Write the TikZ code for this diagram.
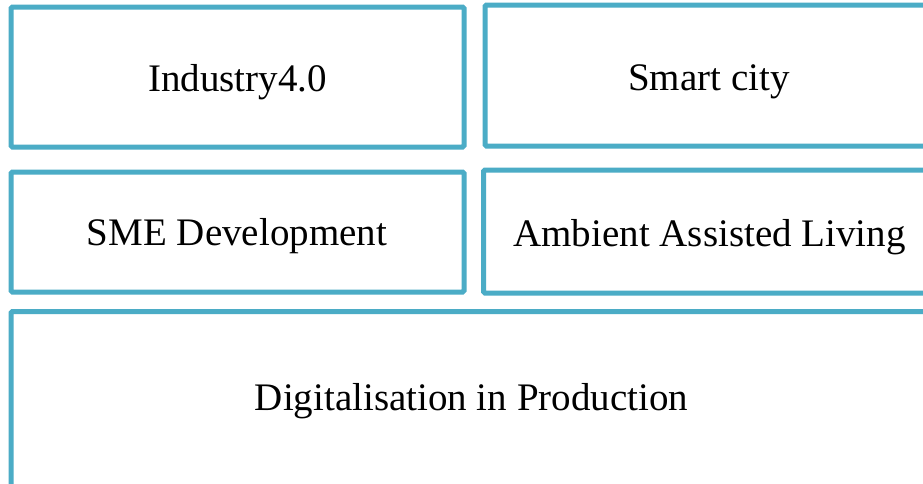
\documentclass[tikz,border=0pt]{standalone}
\usepackage{fontspec}
\setmainfont{Liberation Serif}
\definecolor{boxblue}{HTML}{4BACC6}
\begin{document}
\begin{tikzpicture}[x=1pt,y=-1pt,
  panel/.style={draw=boxblue,line width=5pt,rounded corners=1.5pt,fill=white},
  lbl/.style={anchor=base,inner sep=0pt,font=\fontsize{39}{44}\selectfont,text=black}]
\useasboundingbox (0,0) rectangle (923,483);
\fill[white] (0,0) rectangle (923,483);
\draw[panel] (11,7) rectangle (464,147);
\draw[panel] (485,5) rectangle (940,146);
\draw[panel] (11,172) rectangle (464,292);
\draw[panel] (483.5,170) rectangle (940,293);
\draw[panel] (11,311.5) rectangle (940,500);
\node[lbl] (ind) at (237.5,91.5) {Industry4.0};
\node[lbl] (sc) at (709,90) {Smart city};
\node[lbl] (sme) at (237,245) {SME Development};
\node[lbl] (aal) at (709.5,246) {Ambient Assisted Living};
\node[lbl] (dip) at (471.5,410) {Digitalisation in Production};
\end{tikzpicture}
\end{document}
